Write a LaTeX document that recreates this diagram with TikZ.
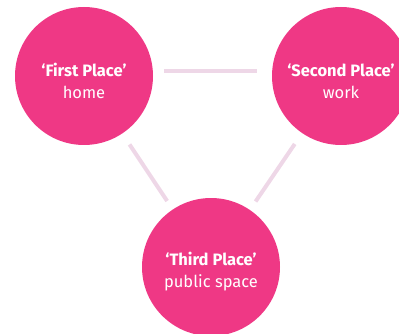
\documentclass[tikz,border=0pt]{standalone}
\usepackage{fontspec}
\setmainfont{Fira Sans}
\definecolor{placepink}{HTML}{EF3885}
\definecolor{linkpink}{HTML}{EED7E7}

\begin{document}
\begin{tikzpicture}[x=1pt, y=-1pt,
    place/.style={circle, fill=placepink, minimum size=138pt, inner sep=0pt},
    label/.style={text=white, align=center, font=\fontsize{16.5}{22}\selectfont},
    link/.style={draw=linkpink, line width=4pt}]
    \useasboundingbox (0, 0) rectangle (399, 334);

    \node[place] (first) at (84, 76) {};
    \node[place] (second) at (341, 76) {};
    \node[place] (third) at (211, 267) {};

    % labels sit a little below the centres
    \node[label] (firsttext) at ([yshift=-5pt]first) {\textbf{‘First Place’}\\home};
    \node[label] (secondtext) at ([yshift=-5pt]second) {\textbf{‘Second Place’}\\work};
    \node[label] (thirdtext) at ([yshift=-5pt]third) {\textbf{‘Third Place’}\\public space};

    \draw[link, shorten <=11pt, shorten >=15pt] ([yshift=5pt]first.east) -- ([yshift=5pt]second.west);
    \draw[link, shorten <=13pt, shorten >=10pt] (first) -- (third);
    \draw[link, shorten <=13pt, shorten >=10pt] (second) -- (third);
  \end{tikzpicture}
\end{document}
